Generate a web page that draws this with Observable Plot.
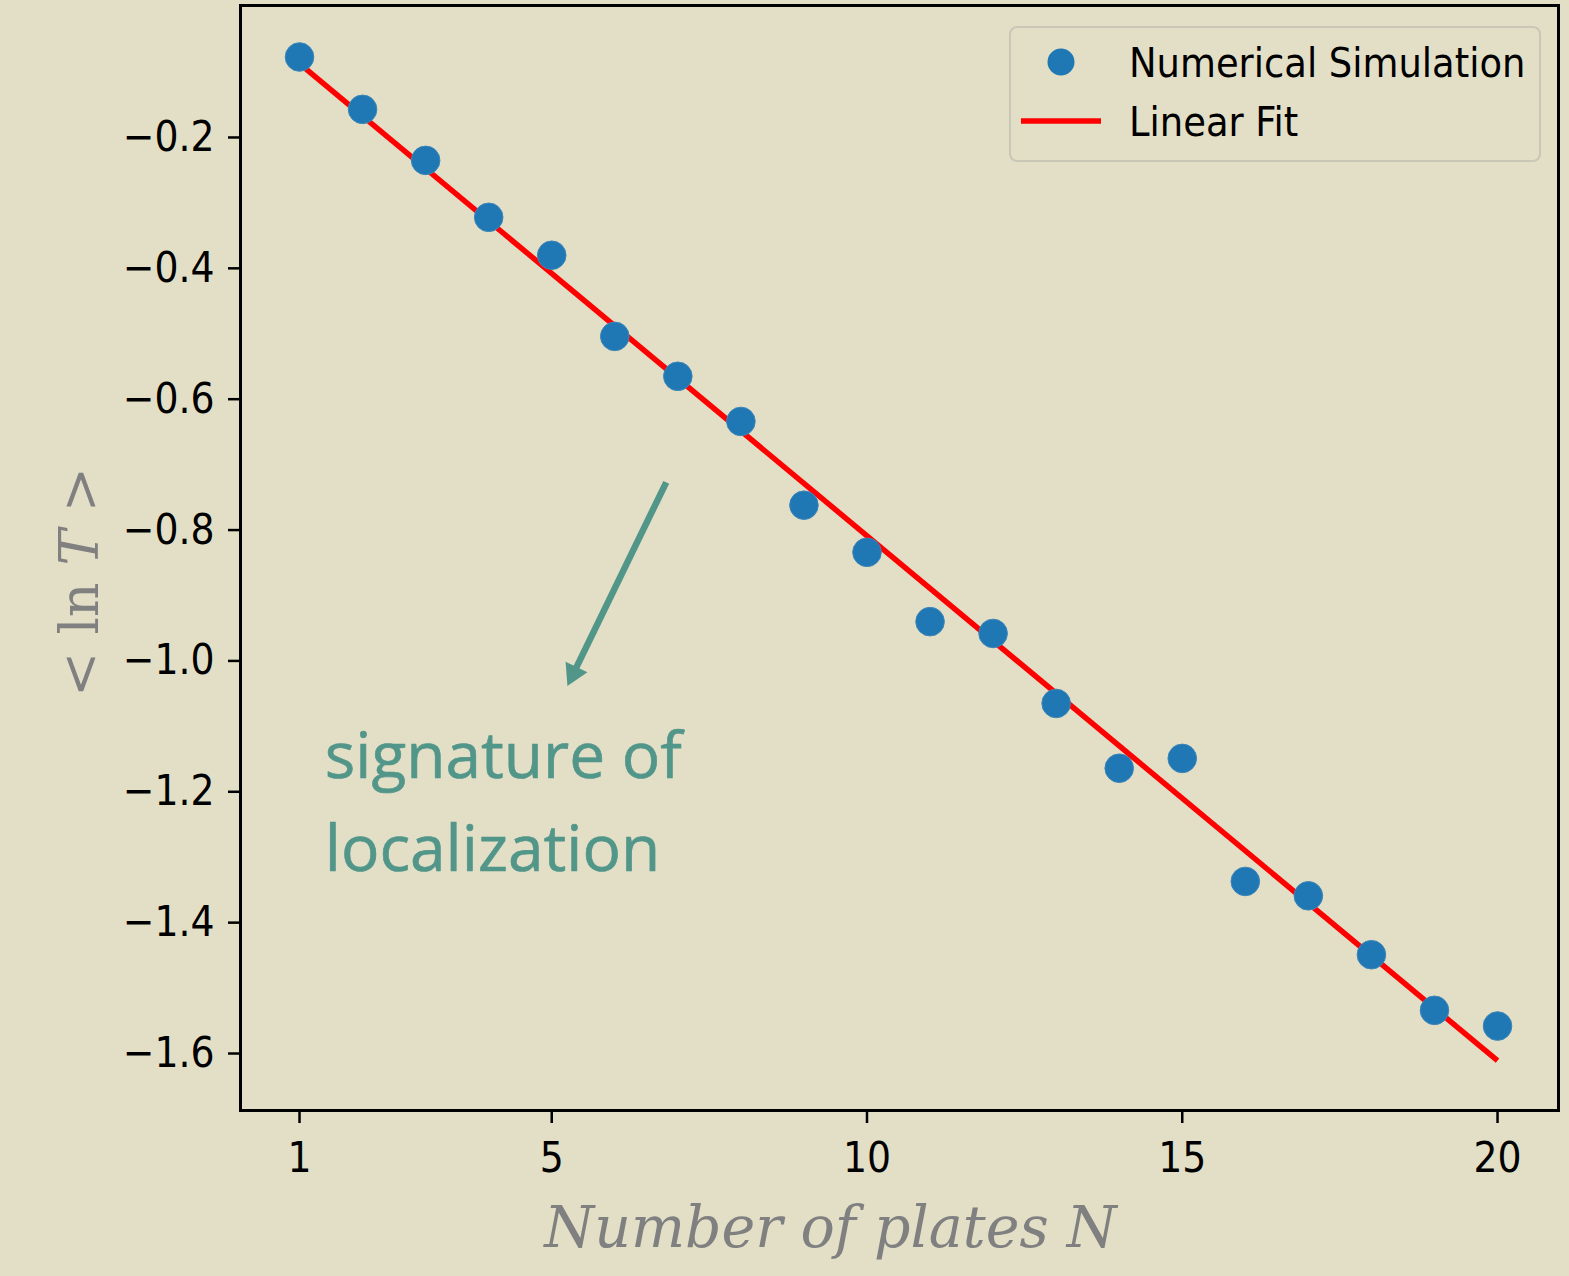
<!DOCTYPE html>
<html>
<head>
<meta charset="utf-8">
<script src="https://cdn.jsdelivr.net/npm/d3@7"></script>
<script src="https://cdn.jsdelivr.net/npm/@observablehq/plot@0.6"></script>
<style>
  html, body { margin: 0; padding: 0; background: #e2dfc6; overflow: hidden; }
  #chart svg { display: block; }
</style>
</head>
<body>
<div id="chart"></div>
<script>
// ---- data ----
const plates  = [1, 2, 3, 4, 5, 6, 7, 8, 9, 10, 11, 12, 13, 14, 15, 16, 17, 18, 19, 20];
const meanLnT = [-0.077, -0.157, -0.235, -0.322, -0.380, -0.504, -0.565, -0.634, -0.762, -0.834,
                 -0.940, -0.958, -1.065, -1.164, -1.149, -1.337, -1.359, -1.449, -1.534, -1.558];
const fitPlates = [1, 20];
const fitValues = [-0.087, -1.611];

const xTicks = [1, 5, 10, 15, 20];
const yTicks = [-0.2, -0.4, -0.6, -0.8, -1.0, -1.2, -1.4, -1.6];

const seriesNames = ["Numerical Simulation", "Linear Fit"];
const xLabel = "Number of plates N";
const yLabelParts = ["< ln ", "T", " >"];

const annotationLines = ["signature of", "localization"];
const annotationX = [1.40, 1.40];
const annotationY = [-1.110, -1.251];
const arrowStart = [6.816, -0.727];
const arrowEnd = [5.345, -1.019];

// ---- build tables ----
const points = plates.map((n, i) => ({n, v: meanLnT[i]}));
const fit = fitPlates.map((n, i) => ({n, v: fitValues[i]}));
const annotation = annotationLines.map((t, i) => ({t, x: annotationX[i], y: annotationY[i]}));
const arrow = [{x1: arrowStart[0], y1: arrowStart[1], x2: arrowEnd[0], y2: arrowEnd[1]}];

const BG = "#e2dfc6";
const TEAL = "#52968a";
const GRAY = "#808080";
const TICKFONT = "'DejaVu Sans Condensed', 'DejaVu Sans', sans-serif";

const chart = Plot.plot({
  width: 1569,
  height: 1276,
  marginLeft: 240,
  marginRight: 11,
  marginTop: 5,
  marginBottom: 166,
  style: {background: BG, fontFamily: TICKFONT, fontSize: "42px", color: "black"},
  x: {domain: [0.064, 20.967]},
  y: {domain: [-1.6871, 0.0017]},
  marks: [
    Plot.axisX(xTicks, {tickSize: 13, tickPadding: 19, fontSize: 42, strokeWidth: 2.5, label: null, tickFormat: d => String(d)}),
    Plot.axisY(yTicks, {tickSize: 12, tickPadding: 14, fontSize: 42, strokeWidth: 2.5, label: null, tickFormat: d => d3.format(".1f")(d)}),
    Plot.line(fit, {x: "n", y: "v", stroke: "#ff0000", strokeWidth: 5.5, strokeLinecap: "butt"}),
    Plot.dot(points, {x: "n", y: "v", r: 14.3, fill: "#1f77b4", stroke: "#3d86b8", strokeWidth: 1}),
    Plot.link(arrow, {x1: "x1", y1: "y1", x2: "x2", y2: "y2", stroke: TEAL, strokeWidth: 6.5}),
    Plot.dot(arrow, {x: "x2", y: "y2", symbol: "triangle", r: 9, fill: TEAL, stroke: "none", rotate: 205.7}),
    Plot.text(annotation, {x: "x", y: "y", text: "t", textAnchor: "start", lineAnchor: "top",
      fontFamily: "'Open Sans', 'Noto Sans', sans-serif", fontSize: 64, fill: TEAL, stroke: TEAL, strokeWidth: 0.6}),
    Plot.text([xLabel], {frameAnchor: "bottom", dx: -69, dy: 96.5, lineAnchor: "top", textAnchor: "middle", text: d => d,
      fontFamily: "'DejaVu Serif', serif", fontStyle: "italic", fontSize: 57, fill: GRAY}),
    Plot.text([yLabelParts.join("")], {frameAnchor: "left", dx: -160, dy: 24, rotate: -90, lineAnchor: "middle", textAnchor: "middle", text: d => d,
      fontFamily: "'DejaVu Serif', serif", fontSize: 54, fill: GRAY}),
    Plot.frame({stroke: "black", strokeWidth: 3})
  ]
});

// italic T in the y label
d3.select(chart).selectAll("text").each(function() {
  if (this.textContent === yLabelParts.join("")) {
    const t = d3.select(this);
    t.text(null);
    t.append("tspan").text(yLabelParts[0]);
    t.append("tspan").attr("font-style", "italic").text(yLabelParts[1]);
    t.append("tspan").text(yLabelParts[2]);
  }
});

// legend (matplotlib-style, upper right inside axes)
const svg = d3.select(chart);
const lg = svg.append("g").attr("font-family", TICKFONT).attr("font-size", 41).attr("text-anchor", "start");
lg.append("rect").attr("x", 1010).attr("y", 27).attr("width", 530).attr("height", 134).attr("rx", 7)
  .attr("fill", BG).attr("stroke", "#c9c7b6").attr("stroke-width", 2);
lg.append("circle").attr("cx", 1061).attr("cy", 62).attr("r", 13.5).attr("fill", "#1f77b4");
lg.append("line").attr("x1", 1021).attr("x2", 1101).attr("y1", 121).attr("y2", 121)
  .attr("stroke", "#ff0000").attr("stroke-width", 5.5);
lg.append("text").attr("x", 1129).attr("y", 77).attr("fill", "black").text(seriesNames[0]);
lg.append("text").attr("x", 1129).attr("y", 136).attr("fill", "black").text(seriesNames[1]);

document.getElementById("chart").appendChild(chart);
</script>
</body>
</html>
